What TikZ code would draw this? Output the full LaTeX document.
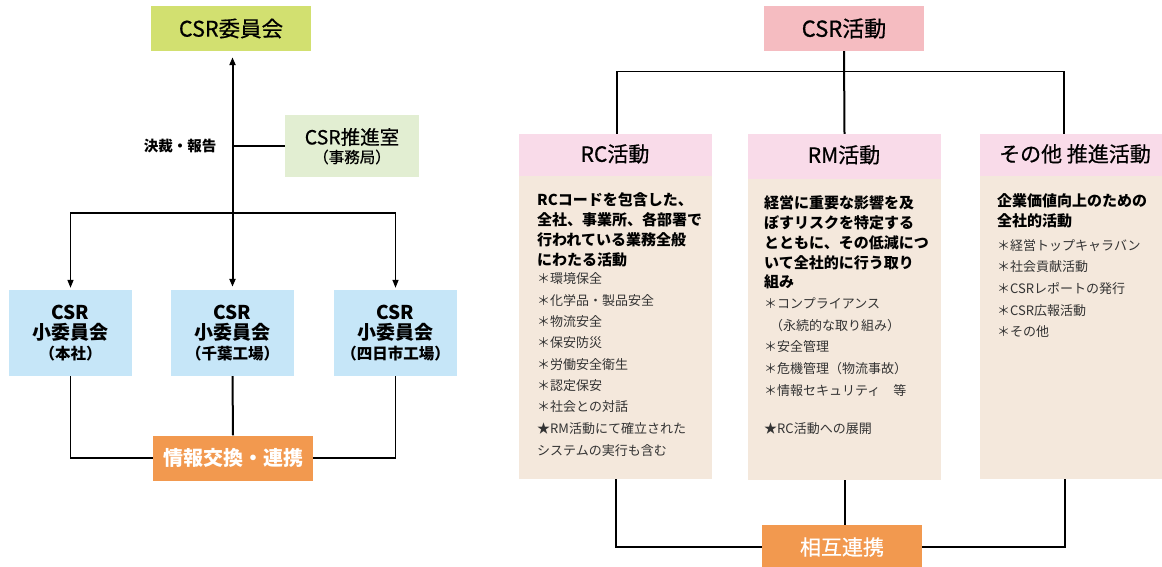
\documentclass[tikz,border=0pt]{standalone}
\usepackage{fontspec}
\setmainfont{Noto Sans CJK JP}
\newfontfamily\medfont[FakeBold=0.6]{Noto Sans CJK JP}
\usetikzlibrary{arrows.meta}
\definecolor{cgreen}{HTML}{D2E070}
\definecolor{lgreen}{HTML}{E2EED2}
\definecolor{lblue}{HTML}{C6E6F8}
\definecolor{corange}{HTML}{F2994F}
\definecolor{cpink}{HTML}{F5BCC1}
\definecolor{hpink}{HTML}{F9DBE9}
\definecolor{beige}{HTML}{F4E8DC}
\definecolor{itemgray}{HTML}{333333}
\tikzset{
  boxbase/.style={inner sep=0pt, align=center, text=black},
  ln/.style={line width=1.3pt, black},
  thick ln/.style={line width=2pt, black},
  tip/.style={-{Triangle[length=8pt,width=6pt]}},
  hline/.style={anchor=west, inner sep=0pt, text height=0.88em, text depth=0.12em,
    font=\fontsize{15}{18}\selectfont\bfseries},
  iline/.style={anchor=west, inner sep=0pt, text height=0.88em, text depth=0.12em,
    font=\fontsize{13}{16}\selectfont, text=itemgray},
  headbox/.style={fill=hpink, inner sep=0pt, minimum width=193pt},
  headtext/.style={inner sep=0pt, text height=0.88em, text depth=0.12em,
    font=\medfont\fontsize{21}{23}\selectfont},
  bodybox/.style={fill=beige, inner sep=0pt, minimum width=193pt},
}
\begin{document}
\begin{tikzpicture}[x=1pt,y=-1pt]
\clip (0,0) rectangle (1162,566);
\fill[white] (0,0) rectangle (1162,566);

% ---------------- left panel ----------------
\node[boxbase, fill=cgreen, minimum width=160pt, minimum height=45pt,
  font=\medfont\fontsize{21.5}{23}\selectfont] (comm) at (231,28.5) {CSR委員会};
\node[boxbase, fill=lgreen, minimum width=134pt, minimum height=62pt] (promo) at (352,146) {};
\node[anchor=center, inner sep=0pt, font=\medfont\fontsize{19.5}{21}\selectfont] (promoT) at (352,137) {CSR推進室};
\node[anchor=center, inner sep=0pt, font=\medfont\fontsize{15.5}{17}\selectfont] (promoS) at (352,157) {（事務局）};
\node[inner sep=0pt, font=\fontsize{14.5}{16}\selectfont\bfseries] (decide) at (180,146) {決裁・報告};

\foreach \n/\x/\t in {sub1/70.5/（本社）, sub2/232.5/（千葉工場）, sub3/395.5/（四日市工場）}{
  \node[boxbase, fill=lblue, minimum width=123pt, minimum height=86pt,
    font=\fontsize{19}{20}\selectfont\bfseries] (\n) at (\x,333)
    {CSR\\小委員会\\{\fontsize{15.5}{20}\selectfont\t}};
}
\node[boxbase, fill=corange, minimum width=160pt, minimum height=45pt, text=white,
  font=\fontsize{20}{22}\selectfont\bfseries] (info) at (233,458) {情報交換・連携};

\coordinate (br) at (233,213);
\draw[thick ln, {Triangle[length=8pt,width=6pt]}-{Triangle[length=8pt,width=6pt]},
  shorten <=3pt, shorten >=6pt] (sub2.north) -- (sub2.north |- comm.south);
\draw[ln, tip, shorten >=2pt] (br) -| (sub1.north);
\draw[ln, tip, shorten >=2pt] (br) -| (sub3.north);
\draw[ln] (promo.west) -- (promo.west -| sub2.north);
\draw[ln] (sub1.south) |- (info.west);
\draw[ln] (sub3.south) |- (info.east);
\draw[thick ln] (sub2.south) -- (info.north);

% ---------------- right panel ----------------
\node[boxbase, fill=cpink, minimum width=160pt, minimum height=45pt,
  font=\medfont\fontsize{22}{24}\selectfont] (act) at (844,28.5) {CSR活動};

\node[bodybox, minimum height=303pt] (rcb) at (615.5,327.5) {};
\node[bodybox, minimum height=301pt] (rmb) at (844.5,329.5) {};
\node[bodybox, minimum width=182pt, minimum height=303pt] (otb) at (1071,327.5) {};
\node[headbox, minimum height=42pt] (rch) at (615.5,155) {};
\node[headbox, minimum height=45pt] (rmh) at (844.5,156.5) {};
\node[headbox, minimum width=182pt, minimum height=42pt] (oth) at (1071,155) {};
\node[headtext] (rcht) at (615,158) {RC活動};
\node[headtext] (rmht) at (844,159) {RM活動};
\node[headtext] (otht) at (1075,158) {その他 推進活動};

\draw[ln] ([xshift=1.5pt]rch.north) |- ([yshift=-20pt]act.south) -| ([xshift=-7pt]oth.north);
\draw[thick ln] (act.south) -- (rmh.north);

% RC body
\foreach \t [count=\i] in {RCコードを包含した、, 全社、事業所、各部署で, 行われている業務全般, にわたる活動}{
  \node[hline] (rcH\i) at (537,{182+20*\i}) {\t};
}
\foreach \t/\y [count=\i] in {＊環境保全/280, ＊化学品・製品安全/302, ＊物流安全/323, ＊保安防災/344,
  ＊労働安全衛生/366, ＊認定保安/387, ＊社会との対話/408, ★RM活動にて確立された/430, システムの実行も含む/452}{
  \node[iline] (rcI\i) at (537,\y) {\t};
}

% RM body
\foreach \t/\y [count=\i] in {経営に重要な影響を及/205, ぼすリスクを特定する/225, とともに、その低減につ/245,
  いて全社的に行う取り/265, 組み/284}{
  \node[hline] (rmH\i) at (764,\y) {\t};
}
\foreach \t/\x/\y [count=\i] in {＊コンプライアンス/764/305, （永続的な取り組み）/770/327, ＊安全管理/764/348,
  ＊危機管理（物流事故）/764/370, ＊情報セキュリティ　等/764/392, ★RC活動への展開/764/430}{
  \node[iline] (rmI\i) at (\x,\y) {\t};
}

% other body
\foreach \t/\y [count=\i] in {企業価値向上のための/203, 全社的活動/223}{
  \node[hline] (otH\i) at (997,\y) {\t};
}
\foreach \t/\y [count=\i] in {＊経営トップキャラバン/247, ＊社会貢献活動/268, ＊CSRレポートの発行/290,
  ＊CSR広報活動/312, ＊その他/333}{
  \node[iline] (otI\i) at (997,\y) {\t};
}

\node[boxbase, fill=corange, minimum width=160pt, minimum height=44pt, text=white,
  font=\medfont\fontsize{21}{23}\selectfont] (mut) at (842,547) {相互連携};

\draw[ln] ([xshift=0.5pt]rcb.south) |- (mut.west);
\draw[ln] ([xshift=-6pt]otb.south) |- (mut.east);
\draw[thick ln] (rmb.south) -- (mut.north -| rmb.south);
\end{tikzpicture}
\end{document}
